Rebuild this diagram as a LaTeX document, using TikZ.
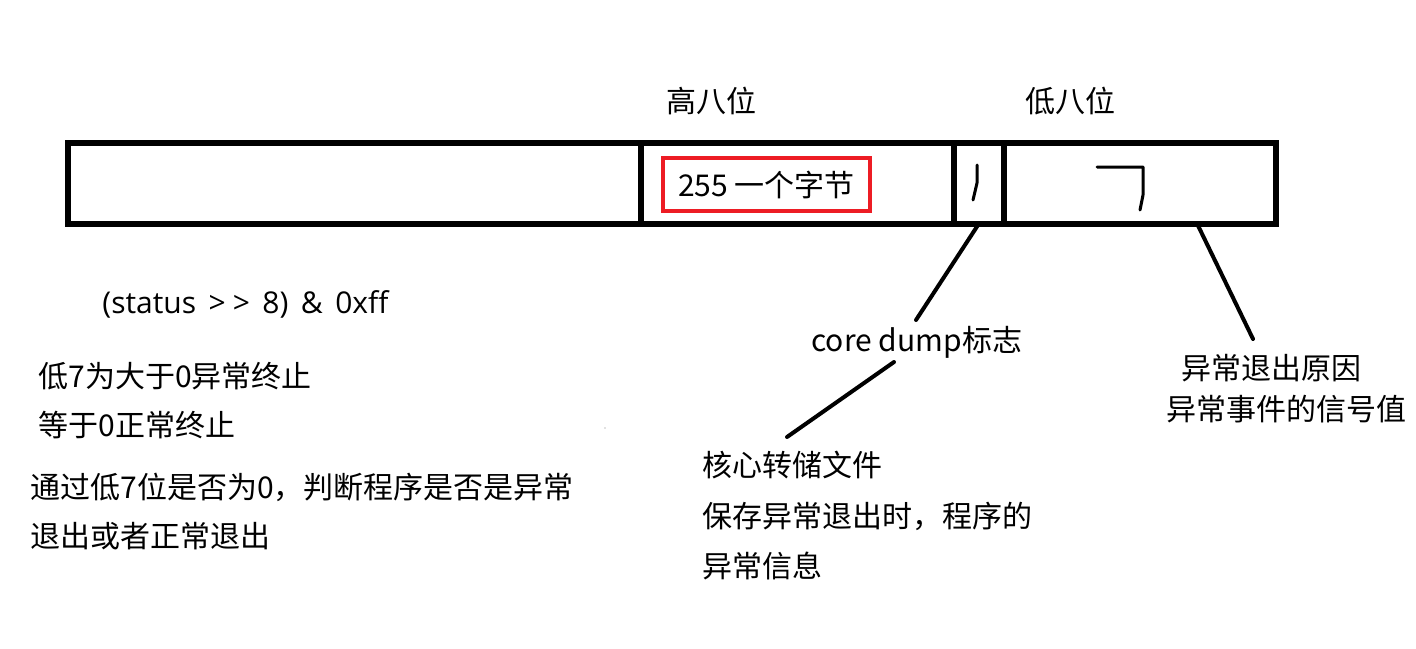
\documentclass[tikz,border=0pt]{standalone}
\usepackage{fontspec}
\setmainfont{Noto Sans CJK SC}
\newfontfamily\latinfont[WordSpace=1.6]{Open Sans}
\usetikzlibrary{positioning}

\definecolor{boxred}{RGB}{237,28,36}

\tikzset{
	cell/.style={draw, line width=3pt, inner sep=0pt, outer sep=0pt, minimum height=40.25pt},
	txt/.style={inner sep=0pt, font=\fontsize{15}{25}\selectfont},
	lbl/.style={txt, anchor=west},
	bytebox/.style={txt, draw=boxred, line width=2pt, minimum width=103.5pt, minimum height=26.5pt},
	lead/.style={line width=2pt, line cap=round},
	scribble/.style={line width=1.5pt, line cap=round, line join=round}
}

\begin{document}
\begin{tikzpicture}[x=0.5pt,y=0.5pt,yscale=-1,xscale=1]
	\useasboundingbox (0,0) rectangle (1416,648);

	%Shape: status word, four cells
	\node[cell, minimum width=286.5pt] (rest) at (354.5,183.25) {};
	\node[cell, minimum width=156.5pt, right=0pt of rest] (hi) {};
	\node[cell, minimum width=25pt, right=0pt of hi] (flag) {};
	\node[cell, minimum width=136pt, right=0pt of flag] (lo) {};

	% Text Node
	\node[lbl] (hilbl) at (666,101) {高八位};
	% Text Node
	\node[lbl] (lolbl) at (1025,101) {低八位};
	% Text Node (red box)
	\node[bytebox] (bytes) at (766.5,184.5) {255 一个字节};

	%Hand marks in the cells
	\draw[scribble] (977,165) -- (977,183) -- (973,200);
	\draw[scribble] (1097,167) -- (1143,167) -- (1143,195) -- (1140,210);

	% Text Node
	\node[lbl] (expr) at (102,304) {\latinfont (status >\kern3.5pt> 8) \& 0xff};
	% Text Node
	\node[lbl] (low1) at (38,376) {低7为大于0异常终止};
	\node[lbl] (low2) at (38,425) {等于0正常终止};
	% Text Node
	\node[lbl] (note1) at (30,487) {通过低7位是否为0，判断程序是否是异常};
	\node[lbl] (note2) at (30,536) {退出或者正常退出};
	% Text Node
	\node[lbl] (cd) at (811,342) {core dump标志};
	% Text Node
	\node[lbl] (core1) at (702,465) {核心转储文件};
	\node[lbl] (core2) at (702,516) {保存异常退出时，程序的};
	\node[lbl] (core3) at (702,566) {异常信息};
	% Text Node
	\node[lbl] (sig1) at (1181,368) {异常退出原因};
	\node[lbl] (sig2) at (1166,409) {异常事件的信号值};

	%Straight Lines
	\coordinate (cdtip) at (916,320);
	\draw[lead] (flag.south) -- (cdtip);
	%Straight Lines
	\coordinate (cdfoot) at (894,362);
	\coordinate (coretip) at (787,437);
	\draw[lead] (cdfoot) -- (coretip);
	%Straight Lines
	\coordinate (lotap) at ([xshift=28.5pt]lo.south);
	\coordinate (sigtip) at (1253,339);
	\draw[lead] (lotap) -- (sigtip);

	%stray dot
	\fill[gray] (605,428) circle (0.6);
\end{tikzpicture}
\end{document}
